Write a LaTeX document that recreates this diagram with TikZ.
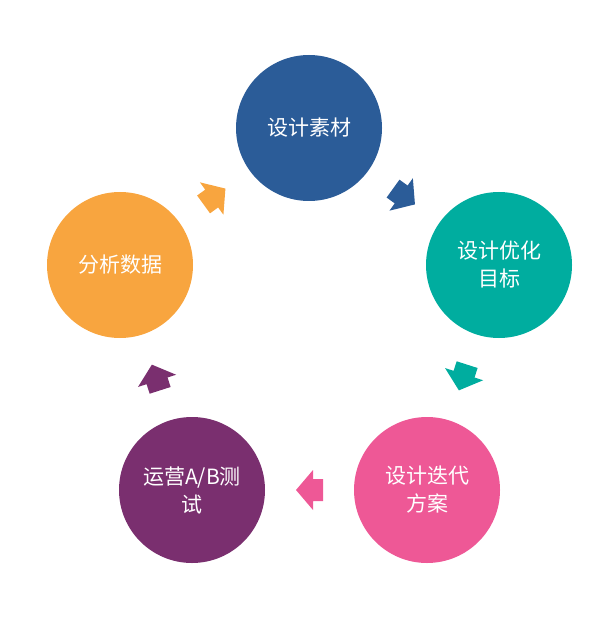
\documentclass[tikz,border=0pt]{standalone}
\usepackage{fontspec}
\setmainfont{Noto Sans CJK SC}
\usetikzlibrary{calc}
\definecolor{cblue}{HTML}{2B5C98}
\definecolor{cteal}{HTML}{00AD9F}
\definecolor{cpink}{HTML}{EE5896}
\definecolor{cpurple}{HTML}{7A2F6F}
\definecolor{corange}{HTML}{F8A53F}
\begin{document}
\begin{tikzpicture}[x=1pt,y=-1pt,
  stage/.style={circle,minimum size=146pt,inner sep=0pt,text=white,align=center,font=\fontsize{21}{28}\selectfont}]
\useasboundingbox (0,0) rectangle (609,617);
\node[stage,fill=cblue] (a) at (309,128) {设计素材};
\node[stage,fill=cteal] (b) at (499,265) {设计优化\\目标};
\node[stage,fill=cpink] (c) at (427,490) {设计迭代\\方案};
\node[stage,fill=cpurple] (d) at (192,490) {运营A/B测\\试};
\node[stage,fill=corange] (e) at (120,265) {分析数据};
\foreach \s/\t/\c in {a/b/cblue,b/c/cteal,c/d/cpink,d/e/cpurple,e/a/corange}{
  \fill[\c] let \p1=($(\t)-(\s)$), \n1={atan2(\y1,\x1)} in
    [shift={($(\s)!0.5!(\t)$)}, rotate=\n1]
    (13.5,0) -- (-3.5,20) -- (-3.5,11) -- (-13.5,11) -- (-13.5,-11) -- (-3.5,-11) -- (-3.5,-20) -- cycle;
}
\end{tikzpicture}
\end{document}
